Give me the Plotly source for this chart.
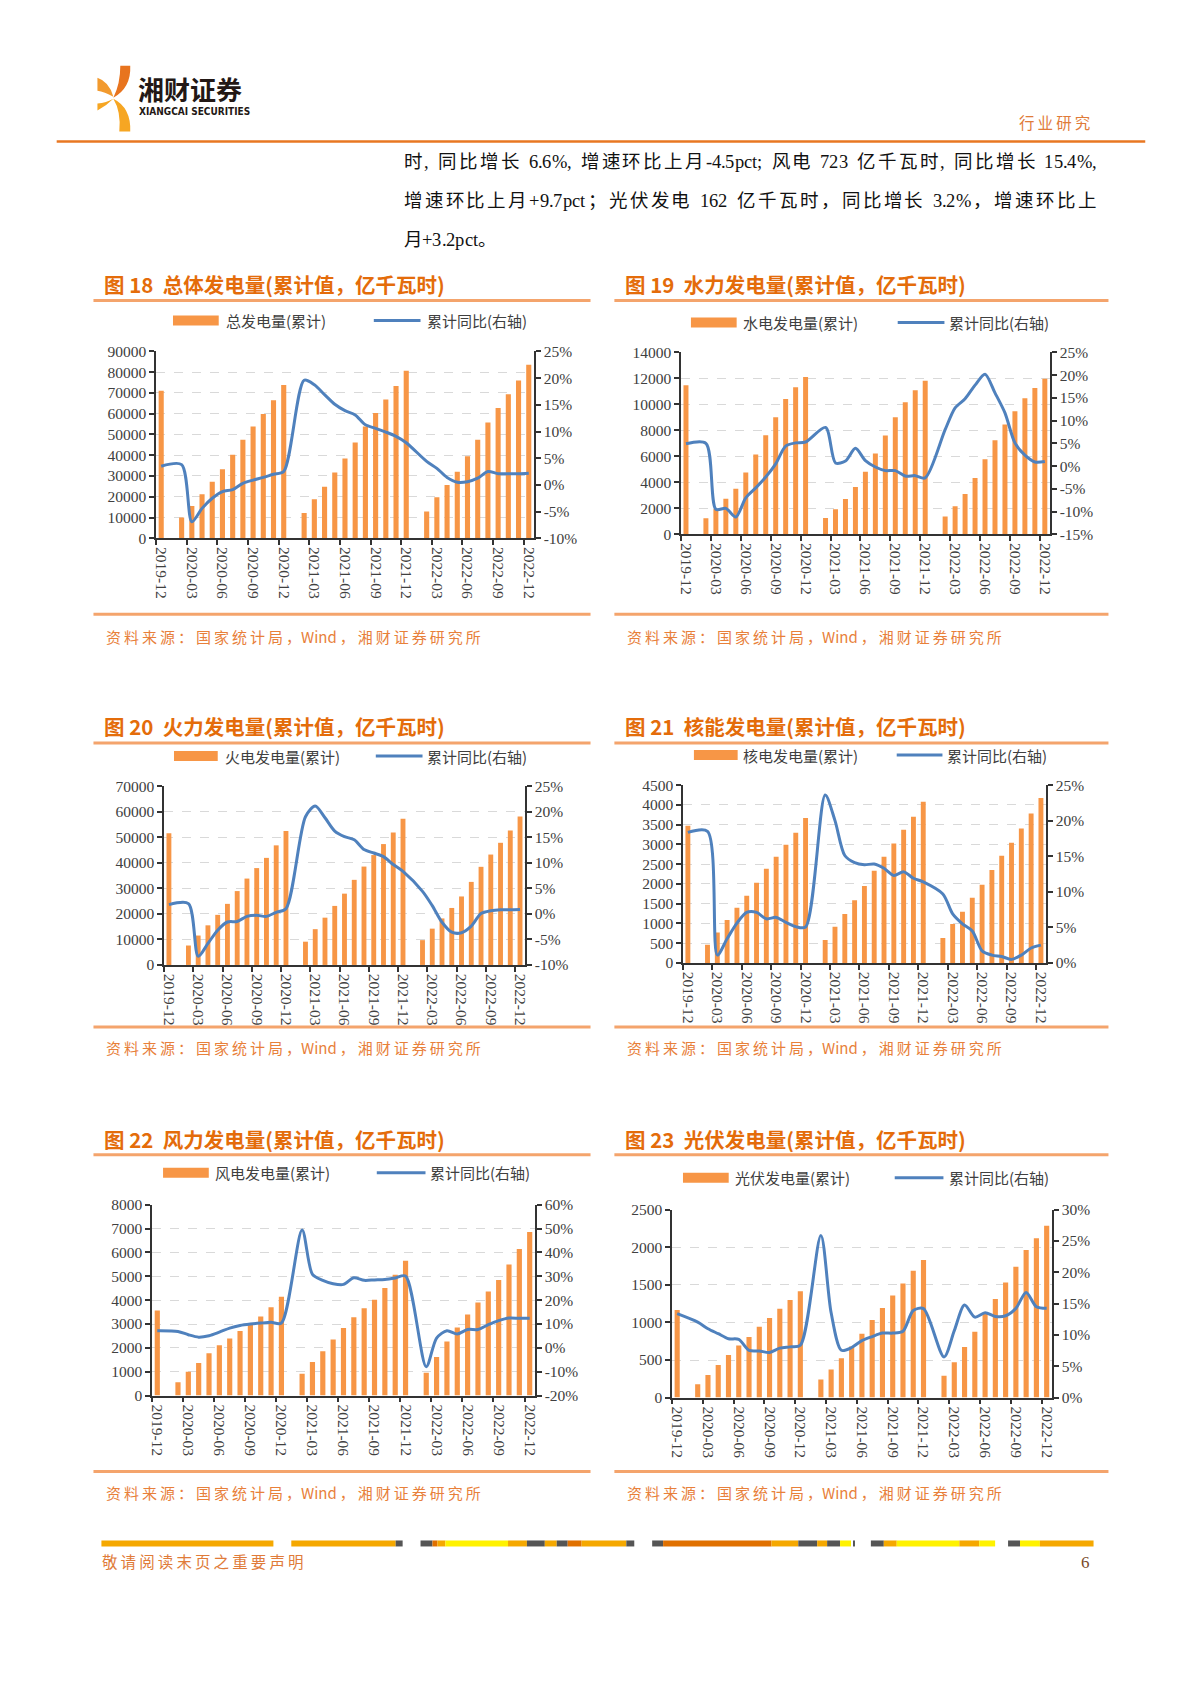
import plotly.graph_objects as go

W, H = 1191, 1684

# ---------------- data ----------------
months = ['2019-12'] + [f'{y}-{m:02d}' for y in (2020, 2021, 2022) for m in range(1, 13)]

total_gen = [71000, None, 10000, 15600, 21200, 27200, 33300, 40200, 47400, 53800, 59800, 66500, 73800,
             None, 12200, 18800, 24800, 31700, 38400, 46100, 53800, 60300, 66900, 73400, 80700,
             None, 12900, 19800, 25700, 32100, 39500, 47400, 55800, 62700, 69400, 76000, 83600]
total_yoy = [3.5, None, 3.8, -6.9, -4.4, -2.5, -1.25, -0.9, 0.3, 0.9, 1.4, 2.0, 2.5,
             None, 19.6, 18.75, 16.9, 15.1, 13.9, 13.1, 11.25, 10.6, 9.9, 9.1, 7.9,
             None, 4.4, 3.1, 1.4, 0.5, 0.6, 1.25, 2.5, 2.1, 2.1, 2.1, 2.2]

hydro_gen = [11470, None, 1230, 1950, 2740, 3500, 4760, 6140, 7630, 9000, 10420, 11310, 12100,
             None, 1250, 1920, 2710, 3630, 4810, 6220, 7600, 9000, 10160, 11080, 11820,
             None, 1360, 2150, 3100, 4330, 5780, 7240, 8450, 9470, 10470, 11260, 11980]
hydro_yoy = [4.9, None, 5.0, -9.5, -9.3, -11.2, -7.0, -4.8, -2.4, 0.5, 4.4, 5.1, 5.3,
             None, 8.5, 0.7, 1.1, 3.9, 1.2, -0.2, -1.0, -1.0, -2.2, -2.1, -2.6,
             None, 8.0, 12.8, 14.8, 17.8, 20.2, 16.1, 11.7, 5.1, 2.4, 0.9, 1.0]

thermal_gen = [51500, None, 7600, 11500, 15500, 19600, 23900, 28900, 33800, 37900, 41900, 46800, 52400,
               None, 9100, 14000, 18500, 23100, 27900, 33300, 38500, 43000, 47300, 51800, 57200,
               None, 9700, 14200, 18200, 22300, 26800, 32500, 38400, 43200, 47800, 52600, 58100]
thermal_yoy = [1.8, None, 2.0, -8.3, -5.8, -3.2, -1.6, -1.5, -0.5, -0.3, -0.5, 0.3, 1.0,
               None, 19.0, 21.1, 18.8, 16.2, 15.1, 14.5, 12.6, 11.9, 11.2, 9.65, 8.3,
               None, 4.4, 1.6, -1.65, -3.6, -3.7, -2.4, 0.05, 0.6, 0.8, 0.8, 0.85]

nuclear_gen = [3472, None, 463, 767, 1087, 1399, 1702, 2031, 2385, 2688, 2992, 3295, 3666,
               None, 581, 918, 1239, 1584, 1947, 2334, 2688, 3025, 3371, 3699, 4079,
               None, 632, 986, 1298, 1652, 1980, 2351, 2713, 3042, 3404, 3784, 4171]
nuclear_yoy = [18.35, None, 18.5, 1.1, 3.4, 5.6, 7.1, 7.1, 6.2, 6.4, 5.7, 5.1, 5.05,
               None, 23.6, 20.0, 15.1, 14.1, 13.8, 13.9, 13.3, 12.3, 12.8, 11.9, 11.4,
               None, 9.7, 6.9, 5.5, 4.5, 1.7, 1.1, 0.9, 0.5, 1.1, 2.1, 2.5]

wind_gen = [3563, None, 563, 1000, 1366, 1775, 2113, 2394, 2704, 3000, 3310, 3704, 4141,
            None, 915, 1408, 1859, 2352, 2831, 3282, 3662, 4014, 4507, 5070, 5648,
            None, 958, 1620, 2268, 2859, 3394, 3901, 4366, 4845, 5493, 6141, 6859]
wind_yoy = [7.2, None, 6.9, 5.5, 4.5, 5.1, 6.6, 8.3, 9.4, 10.0, 10.4, 10.7, 10.4,
            None, 49.4, 30.8, 28.3, 26.9, 26.6, 29.4, 28.3, 28.5, 28.7, 29.3, 30.1,
            None, -7.9, 4.1, 7.2, 5.8, 7.7, 7.7, 9.7, 11.4, 12.5, 12.4, 12.4]

solar_gen = [1165, None, 179, 299, 433, 567, 692, 808, 942, 1058, 1183, 1299, 1415,
             None, 241, 375, 522, 679, 848, 1031, 1192, 1357, 1518, 1688, 1830,
             None, 290, 469, 674, 875, 1116, 1313, 1531, 1741, 1964, 2121, 2286]
solar_yoy = [13.4, None, 12.05, 11.0, 10.2, 9.4, 9.3, 7.55, 7.45, 7.2, 7.9, 8.1, 8.35,
             None, 25.9, 13.55, 7.55, 8.0, 9.1, 9.75, 10.3, 10.3, 10.6, 13.9, 14.2,
             None, 6.5, 10.7, 14.8, 12.85, 13.55, 12.96, 13.07, 14.25, 16.8, 14.5, 14.25]

ticks_total = [0, 10000, 20000, 30000, 40000, 50000, 60000, 70000, 80000, 90000]
ticks_hydro = [0, 2000, 4000, 6000, 8000, 10000, 12000, 14000]
ticks_thermal = [0, 10000, 20000, 30000, 40000, 50000, 60000, 70000]
ticks_nuclear = [0, 500, 1000, 1500, 2000, 2500, 3000, 3500, 4000, 4500]
ticks_wind = [0, 1000, 2000, 3000, 4000, 5000, 6000, 7000, 8000]
ticks_solar = [0, 500, 1000, 1500, 2000, 2500]

pct_m10_25 = [-10, -5, 0, 5, 10, 15, 20, 25]
pct_m15_25 = [-15, -10, -5, 0, 5, 10, 15, 20, 25]
pct_0_25 = [0, 5, 10, 15, 20, 25]
pct_m20_60 = [-20, -10, 0, 10, 20, 30, 40, 50, 60]
pct_0_30 = [0, 5, 10, 15, 20, 25, 30]

paragraph = ['时, 同比增长 6.6%, 增速环比上月-4.5pct; 风电 723 亿千瓦时, 同比增长 15.4%,',
             '增速环比上月+9.7pct；光伏发电 162 亿千瓦时，同比增长 3.2%，增速环比上',
             '月+3.2pct。']

# ---------------- style ----------------
BAR = '#F79646'
LINE = '#4F81BD'
AX = '#333333'
TXT = '#404040'
TITLE = '#E46C0A'
RULE = '#F4A46C'
SRC = '#E8803A'
SERIF = 'Liberation Serif, Noto Sans CJK SC'
CJK = 'Noto Sans CJK SC'
THIN = '\u2009'


def spaced(s):
    return THIN.join(list(s))


def PX(x):
    return x / W


def PY(y):
    # small vertical compensation so page positions land where intended
    return 1 - ((y - 7.3) / 0.9907) / H


shapes = []
annotations = []


def rect(x0, y0, x1, y1, color):
    shapes.append(dict(type='rect', xref='paper', yref='paper', x0=PX(x0), x1=PX(x1),
                       y0=PY(y1), y1=PY(y0), fillcolor=color, line=dict(width=0), layer='above'))


def hline(x0, x1, y, color, width):
    shapes.append(dict(type='line', xref='paper', yref='paper', x0=PX(x0), x1=PX(x1),
                       y0=PY(y), y1=PY(y), line=dict(color=color, width=width), layer='above'))


def text(x, y, s, size, color, family=CJK, anchor='left', weight='normal'):
    annotations.append(dict(xref='paper', yref='paper', x=PX(x), y=PY(y), text=s, showarrow=False,
                            xanchor=anchor, yanchor='middle', borderpad=0,
                            font=dict(size=size, color=color, family=family, weight=weight)))


def path(cmds, color):
    out = []
    for c in cmds:
        if isinstance(c, str):
            out.append(c)
        else:
            out.append(f'{PX(c[0]):.5f},{PY(c[1]):.5f}')
    shapes.append(dict(type='path', xref='paper', yref='paper', path=' '.join(out),
                       fillcolor=color, line=dict(width=0), layer='above'))


# Times-compatible advance widths (em) for the Latin characters used in the paragraph
LATIN_W = {'.': 0.25, ',': 0.25, ';': 0.278, '%': 0.833, '-': 0.333, '+': 0.564,
           'p': 0.5, 'c': 0.444, 't': 0.278, ' ': 0.25}


def char_w(ch, f):
    if ord(ch) > 0x2E80:
        return f
    if ch.isdigit():
        return 0.5 * f
    return LATIN_W.get(ch, 0.5) * f


def set_line(line, x0, x1, y, f, justify=True):
    widths = [char_w(c, f) for c in line]
    natural = sum(widths)

    def tight(a, b):
        return a.isascii() and b.isascii() and a != ' ' and b != ' '

    gaps = {i for i in range(len(line) - 1) if not tight(line[i], line[i + 1])}
    extra = (x1 - x0 - natural) / len(gaps) if (justify and gaps) else 0
    x = x0
    for i, c in enumerate(line):
        if c != ' ':
            text(x, y, c, f, '#111111', SERIF)
        x += widths[i] + (extra if i in gaps else 0)


# ---------------- header ----------------
path(['M', (118, 64), 'L', (128, 64), 'Q', (129, 86), (111, 96), 'Q', (118, 82), (118, 64), 'Z'], '#E8741E')
path(['M', (95, 76), 'Q', (107, 80), (111, 95), 'Q', (102, 90), (95, 89), 'Z'], '#F29A2E')
path(['M', (111, 97), 'Q', (104, 104), (95, 109), 'L', (95, 102), 'Q', (104, 101), (111, 97), 'Z'], '#F6A623')
path(['M', (111, 97), 'Q', (129, 106), (128, 130), 'L', (117, 130), 'Q', (119, 110), (111, 97), 'Z'], '#F6A623')
text(135, 87, '湘财证券', 26, '#231815', CJK, weight='bold')
text(136, 110, 'XIANGCAI SECURITIES', 10, '#231815',
     'Liberation Sans Narrow, DejaVu Sans Condensed, sans-serif', weight='bold')
text(1094, 120, spaced('行业研究'), 15.5, '#E07B39', CJK, anchor='right')
hline(54, 1149, 140, '#E87722', 2.5)

para_y = [160, 199, 238]
for i, (line, yy) in enumerate(zip(paragraph, para_y)):
    set_line(line, 402, 1099, yy, 18.5, justify=(i < len(paragraph) - 1))

# ---------------- charts ----------------
charts = [
    dict(title='图 18  总体发电量(累计值，亿千瓦时)', bar_name='总发电量(累计)', bar=total_gen, line=total_yoy,
         lt=ticks_total, rt=pct_m10_25, tx=104, ty=283, ry=299, rx=(91, 591), leg=319,
         sw=(171, 217), st=225, lsw=(373, 420), lst=427, plot=(154, 534, 350, 537), by=613, sy=635),
    dict(title='图 19  水力发电量(累计值，亿千瓦时)', bar_name='水电发电量(累计)', bar=hydro_gen, line=hydro_yoy,
         lt=ticks_hydro, rt=pct_m15_25, tx=628, ty=283, ry=299, rx=(615, 1112), leg=321,
         sw=(692, 738), st=745, lsw=(900, 947), lst=953, plot=(682, 1053, 351, 533), by=613, sy=635),
    dict(title='图 20  火力发电量(累计值，亿千瓦时)', bar_name='火电发电量(累计)', bar=thermal_gen, line=thermal_yoy,
         lt=ticks_thermal, rt=pct_m10_25, tx=104, ty=725, ry=742, rx=(91, 591), leg=755,
         sw=(172, 216), st=224, lsw=(375, 422), lst=428, plot=(162, 525, 785, 964), by=1026, sy=1047),
    dict(title='图 21  核能发电量(累计值，亿千瓦时)', bar_name='核电发电量(累计)', bar=nuclear_gen, line=nuclear_yoy,
         lt=ticks_nuclear, rt=pct_0_25, tx=628, ty=725, ry=742, rx=(615, 1112), leg=754,
         sw=(695, 739), st=745, lsw=(899, 945), lst=951, plot=(684, 1049, 784, 962), by=1026, sy=1047),
    dict(title='图 22  风力发电量(累计值，亿千瓦时)', bar_name='风电发电量(累计)', bar=wind_gen, line=wind_yoy,
         lt=ticks_wind, rt=pct_m20_60, tx=104, ty=1138, ry=1154, rx=(91, 591), leg=1172,
         sw=(161, 207), st=214, lsw=(376, 425), lst=431, plot=(150, 535, 1204, 1395), by=1471, sy=1492),
    dict(title='图 23  光伏发电量(累计值，亿千瓦时)', bar_name='光伏发电量(累计)', bar=solar_gen, line=solar_yoy,
         lt=ticks_solar, rt=pct_0_30, tx=628, ty=1138, ry=1154, rx=(615, 1112), leg=1177,
         sw=(684, 730), st=737, lsw=(897, 946), lst=953, plot=(673, 1055, 1209, 1397), by=1471, sy=1492),
]

idx = list(range(len(months)))
major = idx[::3]
major_text = [months[i] for i in major]
bounds = [i - 0.5 for i in major]
tickfont = dict(family='Liberation Serif', size=15.5, color=TXT)

fig = go.Figure()
layout = {}
for k, c in enumerate(charts):
    xid, yl, yr = k + 1, 2 * k + 1, 2 * k + 2
    xn = 'x' if xid == 1 else f'x{xid}'
    yln = 'y' if yl == 1 else f'y{yl}'
    yrn = f'y{yr}'
    L, R, T, B = c['plot']
    fig.add_trace(go.Bar(x=idx, y=c['bar'], width=0.5, marker=dict(color=BAR, line=dict(width=0)),
                         xaxis=xn, yaxis=yln, showlegend=False, name=c['bar_name']))
    fig.add_trace(go.Scatter(x=idx, y=c['line'], mode='lines', connectgaps=True,
                             line=dict(color=LINE, width=3, shape='spline', smoothing=0.8),
                             xaxis=xn, yaxis=yrn, showlegend=False, name='累计同比(右轴)'))
    layout['xaxis' if xid == 1 else f'xaxis{xid}'] = dict(
        domain=[PX(L), PX(R)], anchor=yln, range=[-0.5, len(months) - 0.5],
        tickmode='array', tickvals=major, ticktext=major_text, tickangle=90,
        ticks='outside', ticklen=4, tickcolor='rgba(0,0,0,0)', tickfont=tickfont,
        showline=True, linecolor=AX, linewidth=1.5, showgrid=False, zeroline=False,
        minor=dict(tickmode='array', tickvals=bounds, ticks='outside', ticklen=5,
                   tickcolor=AX, tickwidth=1.5, showgrid=False),
        fixedrange=True)
    lt = c['lt']
    layout['yaxis' if yl == 1 else f'yaxis{yl}'] = dict(
        domain=[PY(B), PY(T)], anchor=xn, range=[lt[0], lt[-1]],
        tickmode='array', tickvals=lt, ticktext=[str(v) for v in lt],
        ticks='outside', ticklen=5, tickcolor=AX, tickwidth=1.5, tickfont=tickfont,
        showline=True, linecolor=AX, linewidth=1.5,
        showgrid=True, gridcolor='#D9D9D9', griddash='dash', gridwidth=1, zeroline=False)
    rt = c['rt']
    layout[f'yaxis{yr}'] = dict(
        overlaying=yln, side='right', anchor=xn, range=[rt[0], rt[-1]],
        tickmode='array', tickvals=rt, ticktext=[f'{v}%' for v in rt],
        ticks='outside', ticklen=5, tickcolor=AX, tickwidth=1.5, tickfont=tickfont,
        showline=True, linecolor=AX, linewidth=1.5, showgrid=False, zeroline=False)

    # titles, rules, legend, source
    text(c['tx'] - 3, c['ty'], c['title'], 20.5, TITLE, CJK, weight='bold')
    hline(c['rx'][0], c['rx'][1], c['ry'], RULE, 3)
    rect(c['sw'][0], c['leg'] - 5, c['sw'][1], c['leg'] + 5, BAR)
    text(c['st'] - 2, c['leg'], c['bar_name'], 15, TXT, CJK)
    hline(c['lsw'][0], c['lsw'][1], c['leg'], LINE, 3)
    text(c['lst'] - 2, c['leg'], '累计同比(右轴)', 15, TXT, CJK)
    hline(c['rx'][0], c['rx'][1], c['by'], RULE, 3)
    text(c['tx'] - 1, c['sy'], spaced('资料来源：国家统计局，') + 'Wind' + THIN + spaced('，湘财证券研究所'),
         15, SRC, CJK)

# ---------------- footer ----------------
O, G, DO, Y = '#F5A800', '#555555', '#E07000', '#FFF200'
footer_segments = [(99, 272, O), (290, 395, O), (395, 402, G), (420, 432, G), (432, 437, DO), (437, 445, O),
                   (445, 508, Y), (508, 527, O), (527, 545, G), (545, 557, O), (557, 568, G), (568, 582, DO),
                   (582, 627, O), (627, 635, G), (653, 664, G), (664, 773, DO), (773, 800, O), (800, 819, G),
                   (819, 829, O), (829, 842, G), (842, 853, Y), (855, 857, G), (873, 886, G), (886, 899, O),
                   (899, 962, Y), (962, 982, O), (982, 998, Y), (1011, 1023, G), (1023, 1043, Y), (1043, 1097, O)]
for x0, x1, col in footer_segments:
    rect(x0, 1540, x1, 1546, col)
text(99, 1561, spaced('敬请阅读末页之重要声明'), 15.5, '#E07B39', CJK)
text(1094, 1562, '6', 17, '#7A4A2A', 'Liberation Serif', anchor='right')

fig.update_layout(**layout)
fig.update_layout(width=W, height=H, autosize=False, margin=dict(l=0, r=0, t=0, b=0),
                  paper_bgcolor='white', plot_bgcolor='white', showlegend=False,
                  barmode='overlay', shapes=shapes, annotations=annotations)

fig.write_html('out.html', config={'displayModeBar': False},
               post_script=("document.body.style.margin='0';document.body.style.padding='0';"
                            "var gd=document.getElementById('{plot_id}');"
                            "gd.style.position='absolute';gd.style.left='0px';gd.style.top='0px';"))
